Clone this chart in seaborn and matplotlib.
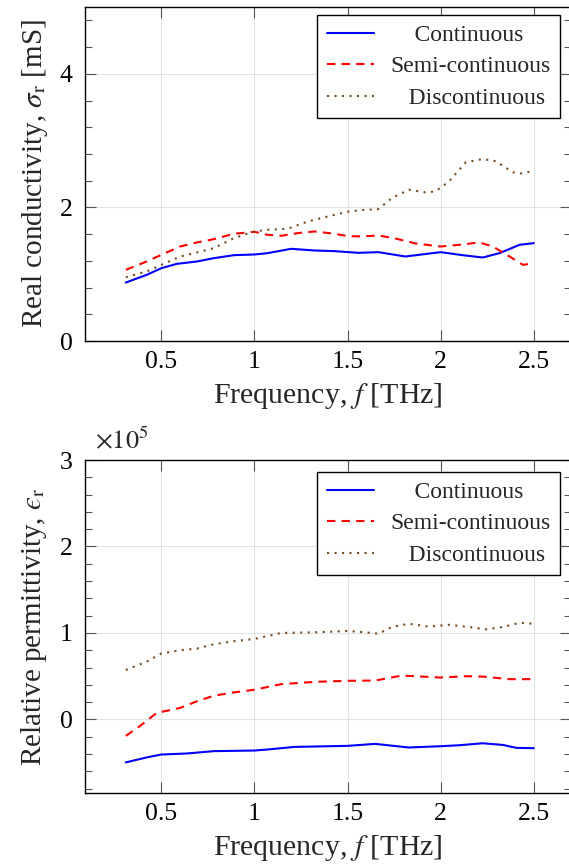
import numpy as np
import pandas as pd
import matplotlib
matplotlib.use('Agg')
import matplotlib.pyplot as plt
from matplotlib.ticker import MultipleLocator, ScalarFormatter
import seaborn as sns

# ===============================
# DATA
# ===============================
# top panel: real conductivity [mS]
f_cont_s = [0.309, 0.421, 0.5, 0.583, 0.691, 0.782, 0.890, 1.0, 1.070, 1.197,
            1.323, 1.431, 1.558, 1.666, 1.810, 2.0, 2.117, 2.226, 2.316, 2.424, 2.5]
sigma_cont = [0.875, 0.99, 1.09, 1.155, 1.19, 1.24, 1.285, 1.295, 1.315, 1.38,
              1.355, 1.345, 1.32, 1.33, 1.265, 1.33, 1.285, 1.25, 1.315, 1.44, 1.465]

f_semi_s = [0.309, 0.421, 0.5, 0.601, 0.691, 0.782, 0.890, 1.0, 1.070, 1.143,
            1.233, 1.323, 1.431, 1.5, 1.576, 1.666, 1.756, 1.865, 2.0, 2.099,
            2.208, 2.280, 2.370, 2.442, 2.5]
sigma_semi = [1.065, 1.19, 1.29, 1.415, 1.475, 1.525, 1.605, 1.635, 1.59, 1.575,
              1.615, 1.64, 1.605, 1.57, 1.565, 1.58, 1.535, 1.46, 1.415, 1.44,
              1.475, 1.415, 1.265, 1.14, 1.165]

f_disc_s = [0.309, 0.421, 0.5, 0.601, 0.691, 0.782, 0.890, 1.0, 1.070, 1.179,
            1.287, 1.395, 1.5, 1.576, 1.666, 1.738, 1.829, 1.919, 1.973, 2.045,
            2.135, 2.226, 2.298, 2.388, 2.442, 2.5]
sigma_disc = [0.955, 1.04, 1.14, 1.265, 1.325, 1.39, 1.54, 1.64, 1.665, 1.68,
              1.79, 1.865, 1.935, 1.96, 1.975, 2.14, 2.265, 2.225, 2.24, 2.39,
              2.675, 2.725, 2.69, 2.525, 2.505, 2.555]

# bottom panel: relative permittivity
f_cont_e = [0.309, 0.421, 0.5, 0.637, 0.782, 1.0, 1.070, 1.215, 1.5, 1.648,
            1.829, 2.0, 2.099, 2.226, 2.334, 2.406, 2.5]
eps_cont = [-49600, -43900, -40500, -39300, -36600, -35900, -34700, -31700,
            -30500, -28200, -32400, -30900, -29800, -27500, -29400, -32800, -33200]

f_semi_e = [0.309, 0.385, 0.475, 0.601, 0.691, 0.782, 0.890, 1.0, 1.143,
            1.323, 1.5, 1.648, 1.792, 2.0, 2.135, 2.226, 2.370, 2.5]
eps_semi = [-19000, -7600, 7600, 13400, 21000, 27500, 31300, 34400, 40800,
            43500, 44700, 45000, 50800, 48500, 50000, 49600, 46600, 46600]

f_disc_e = [0.309, 0.421, 0.5, 0.601, 0.691, 0.782, 0.890, 1.0, 1.143, 1.323,
            1.5, 1.594, 1.666, 1.738, 1.829, 1.937, 2.045, 2.153, 2.244, 2.334,
            2.424, 2.5]
eps_disc = [57300, 66800, 76300, 80000, 82000, 87000, 90500, 93100, 100000,
            100800, 102300, 100800, 99200, 106900, 110700, 107300, 109500,
            106900, 104200, 106900, 111800, 110700]

labels = ['Continuous', 'Semi-continuous', 'Discontinuous']
# leading spaces so the entries look centred like the pgfplots legend
legend_labels = ['    Continuous', 'Semi-continuous', '   Discontinuous']
colors = ['#0000ff', '#ff0000', '#734d26']
styles = ['-', (0, (4, 3)), (0, (1, 2.6))]

# ===============================
# STYLE
# ===============================
sns.set_theme(style='whitegrid')
plt.rcParams['font.family'] = ['Liberation Serif', 'DejaVu Serif']
plt.rcParams['mathtext.fontset'] = 'stix'
plt.rcParams['axes.edgecolor'] = 'black'
plt.rcParams['axes.linewidth'] = 1.0
plt.rcParams['grid.color'] = '#e3e3e3'
plt.rcParams['grid.linewidth'] = 0.8

W, H = 569, 867
fig = plt.figure(figsize=(W / 100, H / 100), dpi=100)

ax1 = fig.add_axes([85 / W, (H - 341) / H, 486 / W, 334 / H])
ax2 = fig.add_axes([85 / W, (H - 793) / H, 486 / W, 333 / H])


def style_axis(ax, legend_top):
    ax.set_facecolor('white')
    ax.set_xlim(0.09, 2.70)
    ax.set_xticks([0.5, 1, 1.5, 2, 2.5])
    ax.set_xticklabels(['0.5', '1', '1.5', '2', '2.5'])
    ax.grid(True, which='major')
    ax.grid(False, which='minor')
    ax.tick_params(which='both', direction='in', top=True, right=True,
                   bottom=True, left=True, colors='#555555',
                   labelcolor='black', labelsize=18.5)
    ax.tick_params(which='major', length=8, width=0.8)
    ax.tick_params(which='minor', length=5, width=0.8)
    ax.tick_params(axis='x', which='major', pad=7)
    ax.tick_params(axis='y', which='major', pad=9)
    ax.tick_params(axis='x', which='minor', bottom=False, top=False)
    ax.set_xlabel('Frequency, $f$ [THz]', fontsize=21.5, labelpad=6)
    for s in ax.spines.values():
        s.set_color('black')
        s.set_linewidth(1.0)
    handles = ax.get_legend_handles_labels()[0]
    leg = ax.legend(handles, legend_labels, loc='upper right',
                    bbox_to_anchor=(0.978, legend_top),
                    borderaxespad=0, fontsize=17, fancybox=False,
                    framealpha=1, edgecolor='black', handlelength=2.0,
                    labelspacing=0.42, borderpad=0.4, handletextpad=0.7)
    leg.get_frame().set_linewidth(1.0)


# top panel
for fx, vals, lab, c, ls in zip([f_cont_s, f_semi_s, f_disc_s],
                                [sigma_cont, sigma_semi, sigma_disc],
                                labels, colors, styles):
    sns.lineplot(x=fx, y=vals, ax=ax1, color=c, linestyle=ls,
                 linewidth=1.5, label=lab)
ax1.set_ylim(0, 5)
ax1.set_yticks([0, 2, 4])
ax1.yaxis.set_minor_locator(MultipleLocator(0.4))
ax1.set_ylabel('Real conductivity, $\\sigma_\\mathrm{r}$ [mS]', fontsize=21,
               labelpad=7)
style_axis(ax1, 0.976)

# bottom panel
for fx, vals, lab, c, ls in zip([f_cont_e, f_semi_e, f_disc_e],
                                [eps_cont, eps_semi, eps_disc],
                                labels, colors, styles):
    sns.lineplot(x=fx, y=vals, ax=ax2, color=c, linestyle=ls,
                 linewidth=1.5, label=lab)
ax2.set_ylim(-85000, 300000)
ax2.set_yticks([0, 100000, 200000, 300000])
ax2.yaxis.set_minor_locator(MultipleLocator(20000))
fmt = ScalarFormatter(useMathText=True)
fmt.set_powerlimits((0, 0))
ax2.yaxis.set_major_formatter(fmt)
ax2.yaxis.get_offset_text().set_visible(False)
ax2.text(0.02, 1.02, '$\\times10^{5}$', transform=ax2.transAxes,
         fontsize=19, ha='left', va='bottom')
ax2.set_ylabel('Relative permittivity, $\u03f5_\\mathrm{r}$', fontsize=21,
               labelpad=7)
style_axis(ax2, 0.964)

fig.savefig('out.png', dpi=100)
